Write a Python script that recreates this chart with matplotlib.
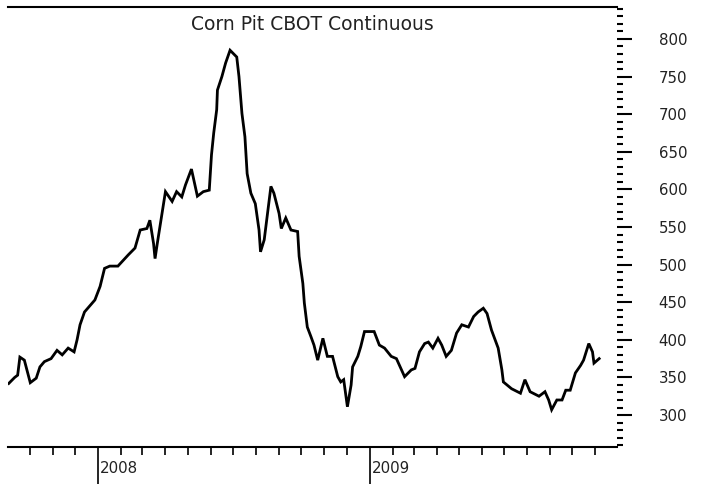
import matplotlib
matplotlib.use("Agg")
import matplotlib.pyplot as plt
import matplotlib.dates as mdates
import numpy as np
import pandas as pd
from matplotlib.ticker import MultipleLocator

title = "Corn Pit CBOT Continuous"

dates = [
    "2007-09-03", "2007-09-11", "2007-09-15", "2007-09-18", "2007-09-24", "2007-10-02",
    "2007-10-10", "2007-10-15", "2007-10-21", "2007-10-30", "2007-11-07", "2007-11-14",
    "2007-11-22", "2007-11-30", "2007-12-04", "2007-12-08", "2007-12-14", "2007-12-28",
    "2008-01-04", "2008-01-10", "2008-01-17", "2008-01-28", "2008-02-11", "2008-02-20",
    "2008-02-27", "2008-03-07", "2008-03-11", "2008-03-16", "2008-03-18", "2008-03-21",
    "2008-03-27", "2008-04-01", "2008-04-10", "2008-04-16", "2008-04-23", "2008-04-28",
    "2008-05-06", "2008-05-14", "2008-05-22", "2008-05-30", "2008-06-02", "2008-06-05",
    "2008-06-09", "2008-06-10", "2008-06-16", "2008-06-21", "2008-06-27", "2008-07-01",
    "2008-07-06", "2008-07-09", "2008-07-13", "2008-07-17", "2008-07-20", "2008-07-25",
    "2008-07-31", "2008-08-05", "2008-08-07", "2008-08-12", "2008-08-17", "2008-08-21",
    "2008-08-25", "2008-09-01", "2008-09-04", "2008-09-10", "2008-09-17", "2008-09-26",
    "2008-09-28", "2008-10-03", "2008-10-05", "2008-10-09", "2008-10-14", "2008-10-18",
    "2008-10-23", "2008-10-30", "2008-11-05", "2008-11-12", "2008-11-19", "2008-11-23",
    "2008-11-27", "2008-12-02", "2008-12-07", "2008-12-09", "2008-12-16", "2008-12-20",
    "2008-12-25", "2009-01-07", "2009-01-14", "2009-01-21", "2009-01-30", "2009-02-06",
    "2009-02-17", "2009-02-26", "2009-03-03", "2009-03-09", "2009-03-16", "2009-03-21",
    "2009-03-27", "2009-04-03", "2009-04-08", "2009-04-14", "2009-04-21", "2009-04-28",
    "2009-05-05", "2009-05-14", "2009-05-21", "2009-05-27", "2009-06-03", "2009-06-08",
    "2009-06-14", "2009-06-23", "2009-06-28", "2009-06-30", "2009-07-11", "2009-07-23",
    "2009-07-29", "2009-08-05", "2009-08-17", "2009-08-25", "2009-08-30", "2009-09-03",
    "2009-09-10", "2009-09-17", "2009-09-22", "2009-09-28", "2009-10-05", "2009-10-12",
    "2009-10-16", "2009-10-23", "2009-10-28", "2009-10-30", "2009-11-06",
]

prices = [
    342, 350, 353, 377, 373, 343,
    349, 364, 371, 375, 386, 380,
    389, 384, 400, 420, 437, 453,
    471, 495, 498, 498, 513, 522,
    546, 548, 559, 528, 508, 528,
    566, 597, 584, 597, 590, 606,
    627, 591, 597, 599, 646, 675,
    706, 732, 750, 768, 785, 781,
    776, 750, 701, 670, 621, 595,
    581, 546, 517, 533, 573, 604,
    595, 568, 548, 562, 546, 544,
    511, 475, 449, 417, 404, 393,
    373, 402, 378, 378, 351, 344,
    347, 311, 340, 364, 378, 391,
    411, 411, 393, 389, 378, 375,
    351, 360, 362, 384, 395, 397,
    389, 402, 393, 378, 386, 409,
    420, 417, 431, 437, 442, 435,
    413, 389, 360, 344, 335, 329,
    347, 331, 325, 331, 320, 307,
    320, 320, 333, 333, 356, 366,
    373, 395, 384, 369, 375,
]

y_ticks = [300, 350, 400, 450, 500, 550, 600, 650, 700, 750, 800]

W, H = 702, 484
fig = plt.figure(figsize=(W / 100, H / 100), dpi=100)
left, right, top, bottom = 8, 617, 7, 447
ax = fig.add_axes([left / W, 1 - bottom / H, (right - left) / W, (bottom - top) / H])

x = pd.to_datetime(dates)
ax.plot(x, prices, color="black", lw=2.0, solid_joinstyle="miter")

ax.set_xlim(pd.Timestamp("2007-09-02"), pd.Timestamp("2009-11-30"))
ax.set_ylim(257.5, 842.5)

for s in ["left", "right"]:
    ax.spines[s].set_visible(False)
ax.spines["top"].set_linewidth(1.5)
ax.spines["bottom"].set_linewidth(1.5)

ax.yaxis.tick_right()
ax.set_yticks(y_ticks)
ax.yaxis.set_minor_locator(MultipleLocator(10))
ax.tick_params(axis="y", which="major", direction="out", length=11, width=1.5,
               pad=19, labelsize=10.8, labelcolor="#222222")
ax.tick_params(axis="y", which="minor", direction="out", length=4.5, width=1.5)
ax.tick_params(axis="y", which="both", left=False, right=True)

ax.xaxis.set_minor_locator(mdates.MonthLocator())
ax.xaxis.set_major_locator(mdates.YearLocator())
ax.xaxis.set_major_formatter(mdates.DateFormatter("%Y"))
ax.tick_params(axis="x", which="minor", direction="out", length=6, width=1.2)
ax.tick_params(axis="x", which="major", direction="out", length=37, width=1.2,
               labelsize=10.8, pad=-27, labelcolor="#222222")
for lab in ax.get_xticklabels():
    lab.set_horizontalalignment("left")
offset = matplotlib.transforms.ScaledTranslation(2 / 100, 0, fig.dpi_scale_trans)
for lab in ax.get_xticklabels():
    lab.set_transform(lab.get_transform() + offset)

ax.text(0.5, 0.96, title, transform=ax.transAxes, ha="center", va="center",
        fontsize=13.5, color="#222222")

fig.savefig("out.png", dpi=100)
